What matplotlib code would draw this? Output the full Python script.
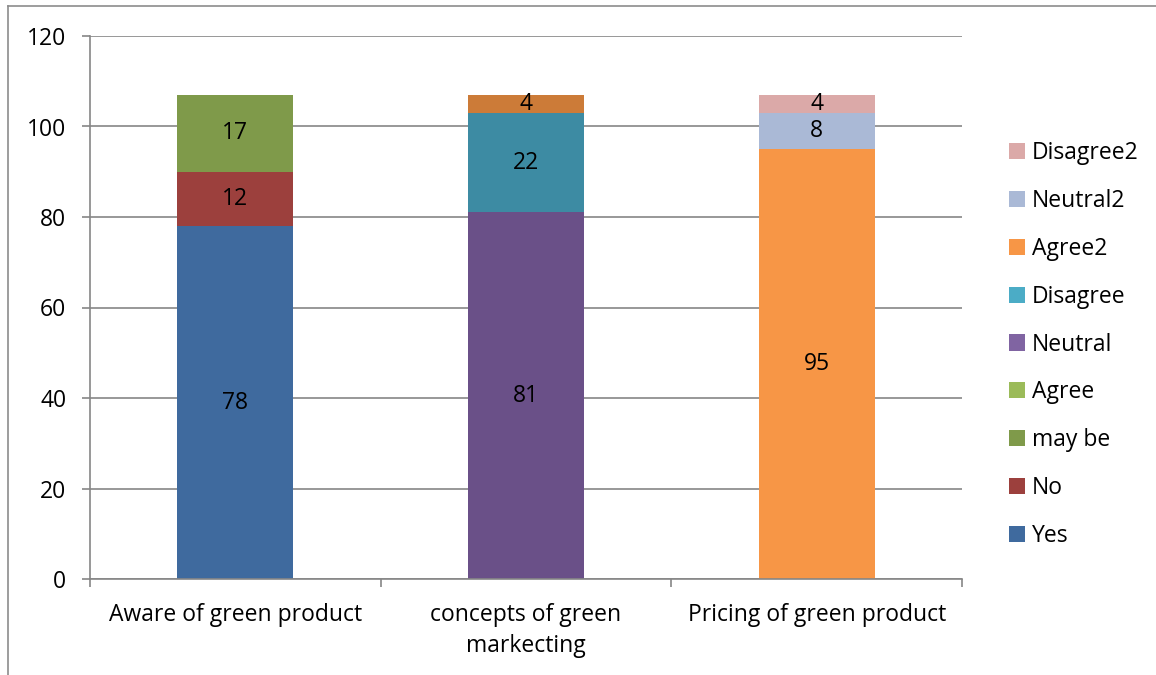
import matplotlib
matplotlib.use("Agg")
import matplotlib.pyplot as plt
from matplotlib.patches import Patch
from matplotlib.lines import Line2D
import numpy as np

plt.rcParams['font.family'] = ['Open Sans', 'DejaVu Sans']

categories = ["Aware of green product", "concepts of green\nmarkecting", "Pricing of green product"]
series_names = ["Yes", "No", "may be", "Agree", "Neutral", "Disagree", "Agree2", "Neutral2", "Disagree2"]
yes = [78, 0, 0]
no = [12, 0, 0]
may_be = [17, 0, 0]
agree = [0, 81, 0]
neutral = [0, 22, 0]
disagree = [0, 4, 0]
agree2 = [0, 0, 95]
neutral2 = [0, 0, 8]
disagree2 = [0, 0, 4]
series_values = [yes, no, may_be, agree, neutral, disagree, agree2, neutral2, disagree2]

bar_colors = ["#3F6A9E", "#9C403D", "#7F9A4A", "#6A5088", "#3D8BA3", "#CC7B38",
              "#F79646", "#AAB9D6", "#DBA9A8"]
legend_colors = ["#3F6A9E", "#9C403D", "#7F9A4A", "#9BBB59", "#8064A2", "#4BACC6",
                 "#F79646", "#AAB9D6", "#DBA9A8"]

FS = 16.5
W, H = 1156, 675
fig = plt.figure(figsize=(W / 100, H / 100), dpi=100)
ax = fig.add_axes([90 / W, (H - 579) / H, (962 - 90) / W, (579 - 36) / H])

x = np.arange(len(categories))
bottom = np.zeros(len(categories))
grid_c = "#868686"
for name, vals, col in zip(series_names, series_values, bar_colors):
    vals = np.array(vals, dtype=float)
    ax.bar(x, vals, width=0.4, bottom=bottom, color=col, zorder=3)
    for xi, v, b in zip(x, vals, bottom):
        if v > 0:
            ax.text(xi, b + v / 2, f"{int(v)}", ha="center", va="center",
                    fontsize=FS, color="black", zorder=4)
    bottom += vals

ax.set_xlim(-0.5, 2.5)
ax.set_ylim(0, 120)
ax.set_yticks(np.arange(0, 121, 20))
ax.yaxis.grid(True, color=grid_c, linewidth=1.2, zorder=0)
ax.tick_params(axis="y", length=6, width=1.2, color=grid_c, labelsize=FS, pad=11)

ax.set_xticks([-0.5, 0.5, 1.5, 2.5])
ax.set_xticklabels([])
ax.set_xticks(x, minor=True)
ax.set_xticklabels(categories, minor=True, fontsize=FS, linespacing=1.4)
ax.tick_params(axis="x", which="major", length=6, width=1.2, color=grid_c)
ax.tick_params(axis="x", which="minor", length=0, pad=17)

for s in ["top", "right"]:
    ax.spines[s].set_visible(False)
for s in ["left", "bottom"]:
    ax.spines[s].set_color(grid_c)
    ax.spines[s].set_linewidth(1.2)
    ax.spines[s].set_zorder(5)

handles = [Patch(facecolor=c, edgecolor="none") for c in legend_colors]
leg = fig.legend(handles[::-1], series_names[::-1], loc="upper left",
                 bbox_to_anchor=(1000 / W, 1 - 132 / H), frameon=False,
                 fontsize=FS, handlelength=0.7, handleheight=0.7,
                 handletextpad=0.3, labelspacing=1.04, borderaxespad=0)

# outer chart border (left and top visible)
fig.add_artist(Line2D([8 / W, 8 / W], [0, 1 - 6 / H], transform=fig.transFigure,
                      color="#8C8C8C", linewidth=1.2))
fig.add_artist(Line2D([8 / W, 1], [1 - 6 / H, 1 - 6 / H], transform=fig.transFigure,
                      color="#8C8C8C", linewidth=1.2))

fig.savefig("out.png", dpi=100)
